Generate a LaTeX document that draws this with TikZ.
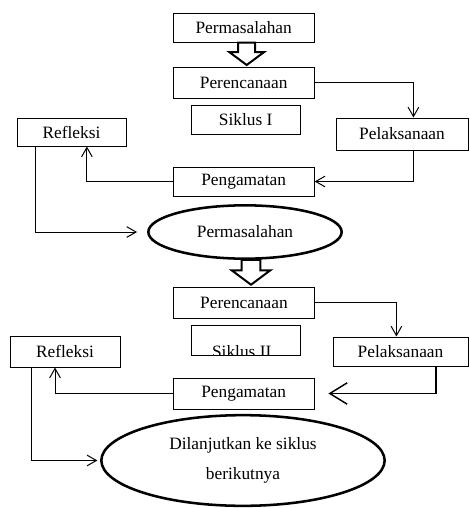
\documentclass[tikz,border=0pt]{standalone}
\usepackage{fontspec}
\setmainfont{Liberation Serif}
\usepackage{tikz}
\usetikzlibrary{shapes.geometric,arrows.meta,calc}

\tikzset{
  box/.style={draw, line width=0.75pt, inner sep=0.75pt, font=\fontsize{13}{15}\selectfont},
  oval/.style={ellipse, draw, line width=1.9pt, inner sep=0pt, align=center, font=\fontsize{13}{23}\selectfont},
  arr/.style={line width=0.75pt, -{Straight Barb[length=7pt,width=8pt]}},
  bigarr/.style={line width=1.1pt, -{Straight Barb[length=13pt,width=16pt]}},
  hollow/.pic={\draw [line width=1.5pt, line join=miter, fill=white] (-8.5,0) -- (-8.5,-9.5) -- (-17.5,-9.5) -- (0,-22.5) -- (17.5,-9.5) -- (8.5,-9.5) -- (8.5,0) -- cycle ;}
}

\begin{document}
\begin{tikzpicture}[x=0.75pt,y=0.75pt,yscale=-1,xscale=1]
\useasboundingbox (0,0) rectangle (469,508);

%Shape: Rectangle
\draw (243.7,27.5) node [box, minimum width=105.75pt, minimum height=21.75pt] (per0) {Permasalahan};
%Shape: Rectangle
\draw (243.7,82.5) node [box, minimum width=105.75pt, minimum height=23.25pt] (per1) {Perencanaan};
%Shape: Rectangle
\draw (245.7,119.5) node [box, minimum width=81.75pt, minimum height=21.75pt] (sik1) {Siklus I};
%Shape: Rectangle
\draw (402,134) node [box, minimum width=99pt, minimum height=24pt] (pel1) {Pelaksanaan};
%Shape: Rectangle
\draw (71.5,132) node [box, minimum width=81.75pt, minimum height=21pt] (ref1) {Refleksi};
%Shape: Rectangle
\draw (243.7,181.5) node [box, minimum width=105.75pt, minimum height=21.75pt] (pga1) {Pengamatan};
%Shape: Ellipse
\draw (245,232) node [oval, minimum width=145pt, minimum height=40pt] (ell1) {Permasalahan};

%Shape: Rectangle
\draw (244,302.5) node [box, minimum width=105.75pt, minimum height=23.25pt] (per2) {Perencanaan};
%Shape: Rectangle
\draw (245.7,340) node [box, minimum width=81.75pt, minimum height=22.5pt,
  path picture={\node [font=\fontsize{13}{15}\selectfont] at ([xshift=-3pt,yshift=-9pt]path picture bounding box.center) {Siklus II};}] (sik2) {};
%Shape: Rectangle
\draw (400.5,351.5) node [box, minimum width=101.25pt, minimum height=21.75pt] (pel2) {Pelaksanaan};
%Shape: Rectangle
\draw (65,351.5) node [box, minimum width=82.5pt, minimum height=23.25pt] (ref2) {Refleksi};
%Shape: Rectangle
\draw (243.7,393.5) node [box, minimum width=105.75pt, minimum height=23.25pt] (pga2) {Pengamatan};
%Shape: Ellipse
\draw (243,460.5) node [oval, minimum width=212.5pt, minimum height=68pt] (ell2) {Dilanjutkan ke siklus\\berikutnya};

%Block Arrows
\pic at ($(per0.south)+(3,0)$) {hollow};
\pic [scale=1.1] at ($(ell1.south)+(6,0)$) {hollow};

%Straight Lines
\draw [arr] (per1.east) -| ($(pel1.north west)!0.586!(pel1.north east)$);
\draw [arr] ($(pel1.south west)!0.586!(pel1.south east)$) |- (pga1.east);
\draw [arr] (pga1.west) -| ($(ref1.south west)!0.64!(ref1.south east)$);
\draw [arr, shorten >=7.5pt] ($(ref1.south west)!0.174!(ref1.south east)$) |- (ell1.west);
%Straight Lines
\draw [arr] (per2.east) -| ($(pel2.north west)!0.47!(pel2.north east)$);
\draw [bigarr, shorten >=10.3pt] ($(pel2.south west)!0.76!(pel2.south east)$) |- (pga2.east);
\draw [arr] (pga2.west) -| ($(ref2.south west)!0.41!(ref2.south east)$);
\draw [arr, shorten >=2pt] ($(ref2.south west)!0.2!(ref2.south east)$) |- (ell2.west);

\end{tikzpicture}
\end{document}
